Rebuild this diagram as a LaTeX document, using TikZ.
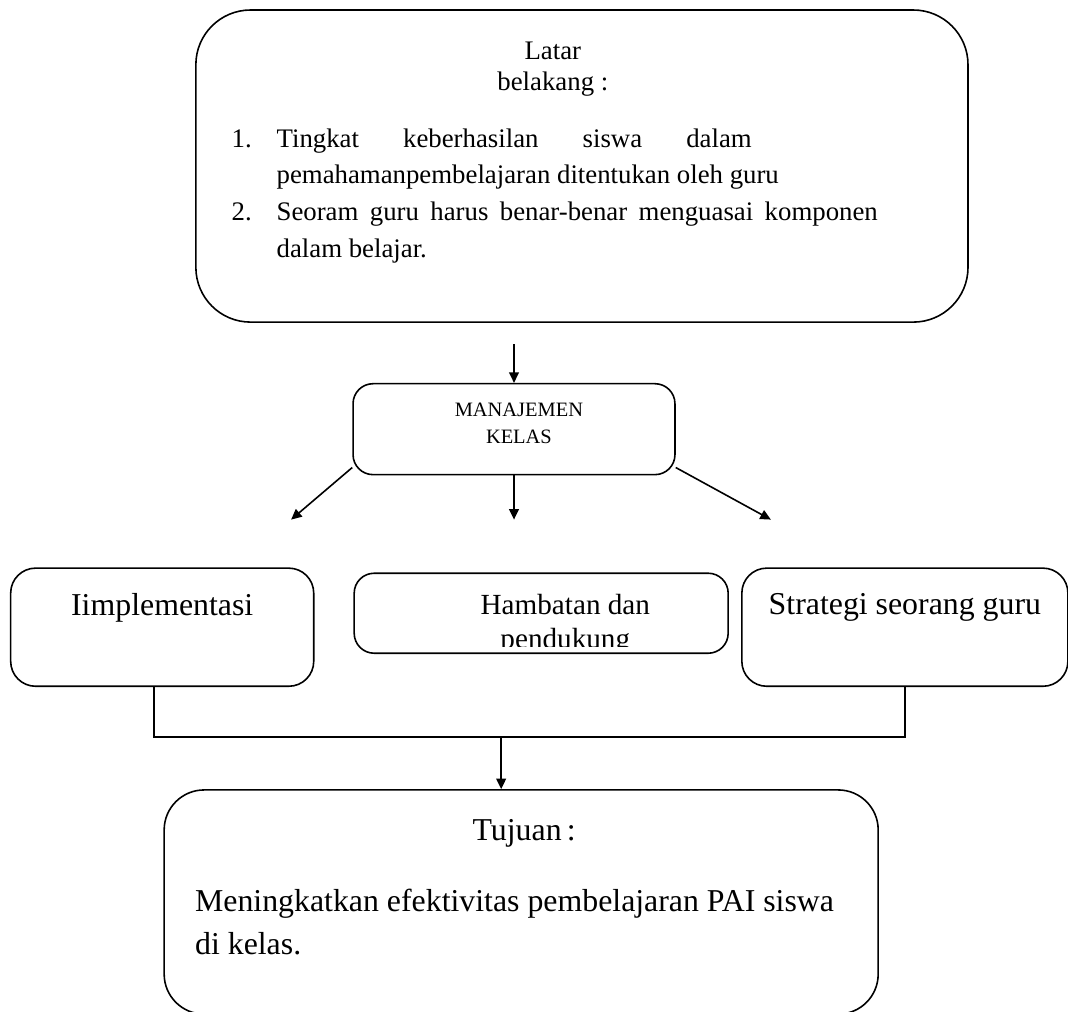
\documentclass[tikz,border=0pt]{standalone}
\usepackage{fontspec}
\setmainfont{Liberation Serif}
\usetikzlibrary{arrows.meta,positioning}

\begin{document}
\begin{tikzpicture}[>={Triangle[length=2.8mm,width=2.6mm]}, line width=1.2pt,
	box/.style={draw, rectangle, rounded corners=#1, inner sep=0pt},
	lbl/.style={inner sep=0pt, align=center}]
	\useasboundingbox (0,0) rectangle (28.30,-26.79);

	% Nodes {latar, mgmt, hamb, impl, strat, tujuan}
	\node [box=1.45cm, minimum width=20.46cm, minimum height=8.27cm]	(latar)	at (15.42,-4.40)	{};
	\node [box=0.53cm, minimum width=8.53cm, minimum height=2.41cm]	(mgmt)	[below=1.59cm of latar, xshift=-1.80cm]	{};
	\node [box=0.53cm, minimum width=9.91cm, minimum height=2.12cm]	(hamb)	[below=2.57cm of mgmt, xshift=0.72cm]	{};
	\node [box=0.66cm, minimum width=8.03cm, minimum height=3.13cm]	(impl)	[left=1.03cm of hamb, yshift=-0.37cm]	{};
	\node [box=0.66cm, minimum width=8.64cm, minimum height=3.13cm]	(strat)	[right=0.32cm of hamb, yshift=-0.37cm]	{};
	\node [box=1.06cm, minimum width=18.92cm, minimum height=5.94cm]	(tujuan)	[below=3.58cm of hamb, xshift=-0.53cm]	{};

	% Texts
	\node [lbl, font=\fontsize{20.2}{23.3}\selectfont, anchor=north]	(latartitle)	at ([xshift=-0.77cm, yshift=-0.85cm]latar.north)	{Latar\\belakang :};
	\node [lbl, align=left, font=\fontsize{20.2}{27.8}\selectfont, anchor=north west]	(latarlist)	at ([xshift=0.95cm, yshift=-3.14cm]latar.north west)	{%
		\makebox[1.19cm][l]{1.}\makebox[12.59cm][s]{Tingkat keberhasilan siswa dalam}\\
		\hspace*{1.19cm}pemahamanpembelajaran ditentukan oleh guru\\
		\makebox[1.19cm][l]{2.}\makebox[15.93cm][s]{Seoram guru harus benar-benar menguasai komponen}\\
		\hspace*{1.19cm}dalam belajar.};
	\node [lbl, font=\fontsize{15.4}{21}\selectfont, anchor=north]	(mgmttext)	at ([xshift=0.13cm, yshift=-0.50cm]mgmt.north)	{MANAJEMEN\\KELAS};
	\node [lbl, font=\fontsize{24}{30}\selectfont, anchor=north]	(impltext)	at ([yshift=-0.66cm]impl.north)	{Iimplementasi};
	\node [lbl, font=\fontsize{24}{30}\selectfont, anchor=north]	(strattext)	at ([yshift=-0.66cm]strat.north)	{Strategi seorang guru};
	\begin{scope}
		\clip (hamb.north west) rectangle ([yshift=0.2cm]hamb.south east);
		\node [lbl, font=\fontsize{22}{25.6}\selectfont, anchor=north]	(hambtext)	at ([xshift=0.64cm, yshift=-0.56cm]hamb.north)	{Hambatan dan\\pendukung};
	\end{scope}
	\node [lbl, font=\fontsize{24}{30}\selectfont, anchor=north]	(tujuantitle)	at ([xshift=0.08cm, yshift=-0.77cm]tujuan.north)	{Tujuan\,:};
	\node [lbl, align=left, font=\fontsize{24}{32.3}\selectfont, anchor=north west]	(tujuantext)	at ([xshift=0.82cm, yshift=-2.62cm]tujuan.north west)	{Meningkatkan efektivitas pembelajaran PAI siswa\\di kelas.};

	% Free ends
	\coordinate [above=1.03cm of mgmt.north]	(topin);
	\coordinate [below left=1.17cm and 1.62cm of mgmt.south west]	(tipL);
	\coordinate [below=1.17cm of mgmt.south]	(tipM);
	\coordinate [below right=1.17cm and 2.52cm of mgmt.south east]	(tipR);
	\coordinate [xshift=-0.53cm] (busin) at (tujuan.north);

	% Paths
	\path [->]	(topin) edge	(mgmt);
	\path [->]	([yshift=0.21cm]mgmt.south west) edge	(tipL);
	\path [->]	(mgmt) edge	(tipM);
	\path [->]	([yshift=0.21cm]mgmt.south east) edge	(tipR);
	\draw	([xshift=-0.22cm]impl.south) -- ++(0,-1.32) coordinate (bus) -| (strat.south);
	\path [->]	(busin |- bus) edge	(busin);

\end{tikzpicture}
\end{document}
